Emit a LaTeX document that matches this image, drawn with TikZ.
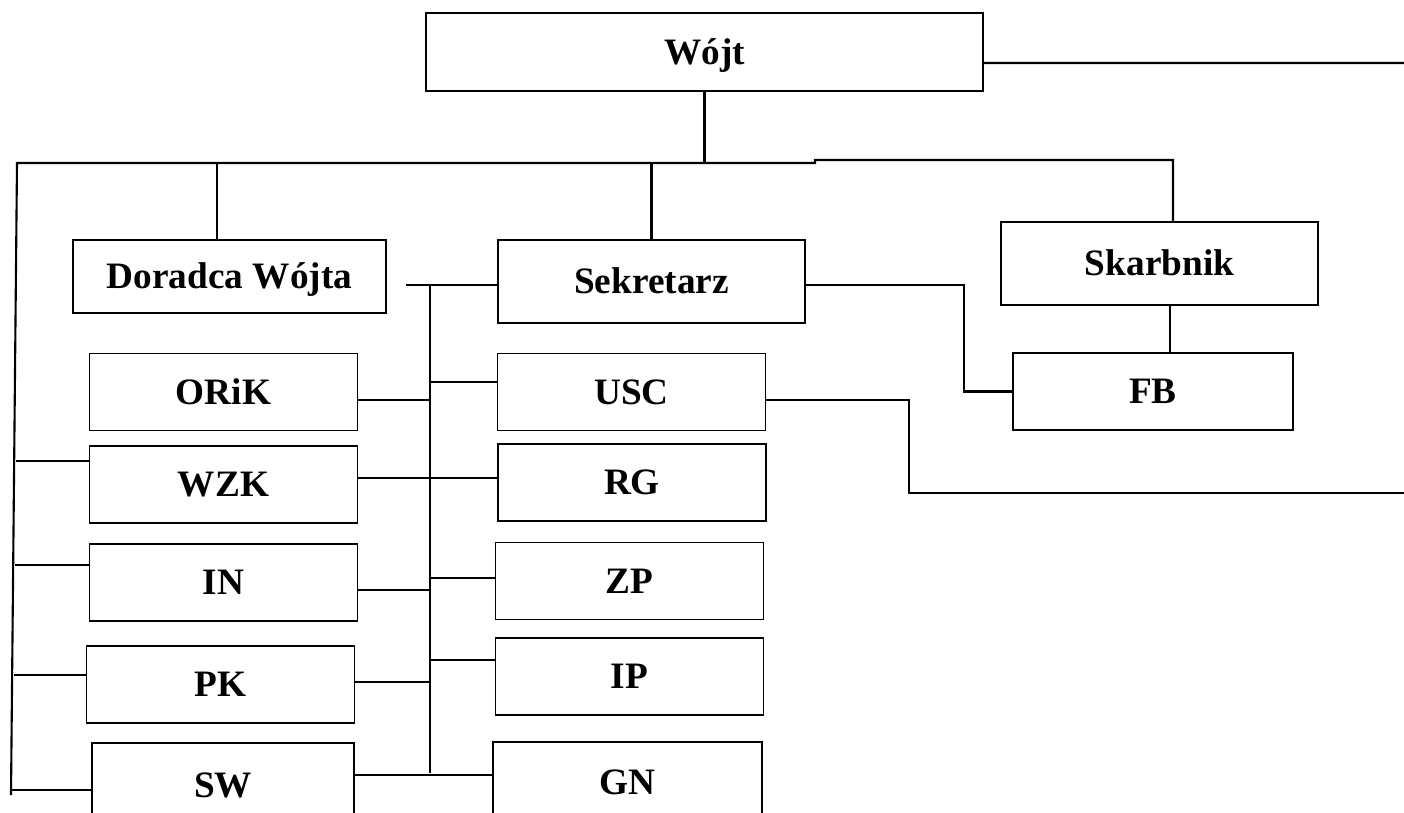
\documentclass[tikz,border=0pt]{standalone}
\usepackage{fontspec}
\setmainfont{Liberation Serif}
\begin{document}
\begin{tikzpicture}[x=0.01cm,y=-0.01cm,line width=0.6pt,
box/.style={draw,line width=0.45pt,inner sep=0pt,text height=7pt,text depth=0pt,font=\fontsize{10.6}{12}\selectfont\bfseries},
thickbox/.style={box,line width=0.75pt}]
\useasboundingbox (0,0) rectangle (1404,812);
\node[box,minimum width=5.57cm,minimum height=0.78cm] (wojt) at (704.5,52) {Wójt};
\node[thickbox,minimum width=3.13cm,minimum height=0.73cm] (doradca) at (229.5,276.5) {Doradca Wójta};
\node[box,minimum width=3.07cm,minimum height=0.83cm] (sekretarz) at (651.5,281.5) {Sekretarz};
\node[box,minimum width=3.17cm,minimum height=0.83cm] (skarbnik) at (1159.5,263.5) {Skarbnik};
\node[box,minimum width=2.8cm,minimum height=0.77cm] (fb) at (1153,391.5) {FB};
\foreach \n/\t/\x/\y in {orik/ORiK/223.5/392,wzk/WZK/223.5/484.5,inv/IN/223.5/582.5,pk/PK/220.5/684.5,usc/USC/631.5/392,rg/RG/632/482.5,zp/ZP/629.5/581,ip/IP/629.5/676.5}
\node[box,minimum width=2.68cm,minimum height=0.77cm] (\n) at (\x,\y) {\t};
\node[thickbox,minimum width=2.62cm,minimum height=0.84cm] (sw) at (223,785) {SW};
\node[thickbox,minimum width=2.69cm,minimum height=0.8cm] (gn) at (627.5,782) {GN};
\coordinate (busl) at (17,163);
\coordinate (busr) at (1173,160);
\coordinate (out1) at (1404,63);
\coordinate (out2) at (1404,493);
\coordinate (mida) at (430,285);
\coordinate (midb) at (430,773);
\draw ([yshift=-0.11cm]wojt.east) -- (out1);
\draw (wojt.south) -- (wojt.south |- busl);
\draw (11,795) -- (busl) -- (815,163) -- (815,160) -- (busr) -- (skarbnik.north -| busr);
\draw (217,163) -- (doradca.north -| 217,0);
\draw (sekretarz.north) -- (sekretarz.north |- busl);
\draw (skarbnik.south -| 1170,0) -- (fb.north -| 1170,0);
\draw ([yshift=-0.035cm]sekretarz.east) -- ++(158,0) |- (fb.west);
\draw ([yshift=-0.08cm]usc.east) -| (909,493) -- (out2);
\draw (mida) -- (midb);
\draw ([xshift=0.19cm]doradca.east |- mida) -- (sekretarz.west |- mida);
\foreach \n/\y in {orik/400,inv/590,pk/682}
\draw (\n.east |- 0,\y) -- (430,\y);
\draw (wzk.east |- 0,478) -- (rg.west |- 0,478);
\draw (sw.east |- 0,775) -- (gn.west |- 0,775);
\foreach \n/\y in {usc/382,zp/578,ip/660}
\draw (430,\y) -- (\n.west |- 0,\y);
\foreach \n/\y/\x in {wzk/461/16,inv/565/15,pk/675/14,sw/790/11}
\draw (\x,\y) -- (\n.west |- 0,\y);
\end{tikzpicture}
\end{document}
